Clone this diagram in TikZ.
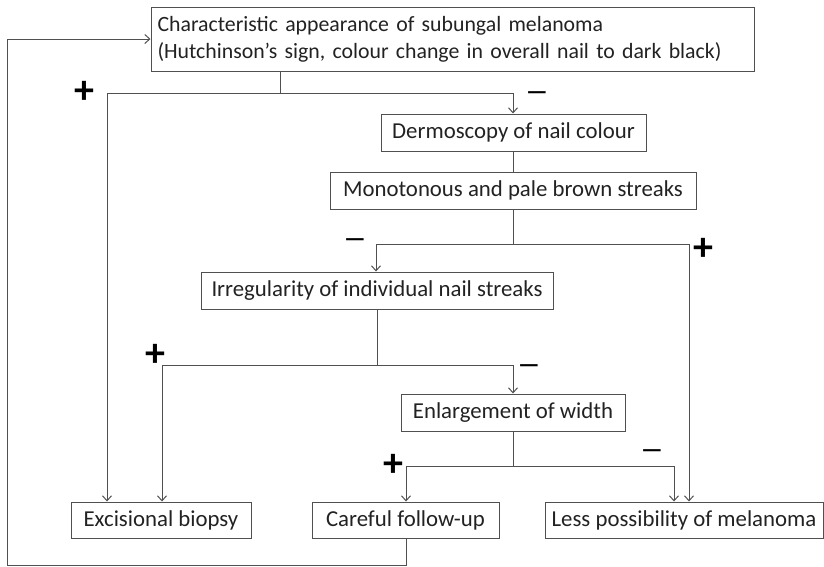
\documentclass[tikz,border=0pt]{standalone}
\usepackage{fontspec}
\setmainfont{Carlito}
\usetikzlibrary{arrows.meta}
\definecolor{linec}{HTML}{505050}
\definecolor{textc}{HTML}{222222}
\begin{document}
\begin{tikzpicture}[x=1pt,y=-1pt,
  box/.style={draw=linec,line width=1pt,inner sep=0pt,text=textc,font=\fontsize{22.8}{27}\selectfont,anchor=center},
  conn/.style={draw=linec,line width=1pt},
  arr/.style={conn,-{Straight Barb[length=5pt,width=9pt]}},
  plus/.style={font=\fontsize{40}{40}\bfseries\selectfont,inner sep=0pt,text=black},
  minus/.style={font=\fontsize{24}{24}\bfseries\selectfont,inner sep=0pt,text=black}]
\useasboundingbox (0,0) rectangle (824,566);
\node[box,minimum width=603pt,minimum height=64pt,text width=590pt,align=left,font=\fontsize{21.8}{27}\selectfont] (top) at (452.5,39)
  {Characteristic appearance of subungal melanoma\\(Hutchinson’s sign, colour change in overall nail to dark black)};
\node[box,minimum width=265pt,minimum height=37pt] (derm) at (513.5,132.5) {Dermoscopy of nail colour};
\node[box,minimum width=366pt,minimum height=37pt] (mono) at (513,190.5) {Monotonous and pale brown streaks};
\node[box,minimum width=352pt,minimum height=37pt] (irr) at (377,290.5) {Irregularity of individual nail streaks};
\node[box,minimum width=224pt,minimum height=37pt] (enl) at (513,412.5) {Enlargement of width};
\node[box,minimum width=180pt,minimum height=36pt] (exc) at (161,520) {Excisional biopsy};
\node[box,minimum width=187pt,minimum height=36pt] (care) at (405.5,520) {Careful follow-up};
\node[box,minimum width=278pt,minimum height=36pt] (less) at (684,520) {Less possibility of melanoma};
% junctions
\coordinate (j1) at (280,93);
\coordinate (b1) at (107,93);
\coordinate (d1) at (513,93);
\coordinate (j2) at (513,244);
\coordinate (i2) at (376,244);
\coordinate (l2) at (689,244);
\coordinate (j3) at (377,365);
\coordinate (b3) at (162,365);
\coordinate (e3) at (513,365);
\coordinate (j4) at (513,466);
\coordinate (c4) at (406,466);
\coordinate (l4) at (674,466);
\coordinate (f1) at (406,565);
\coordinate (f2) at (7,565);
\coordinate (f3) at (7,39);
% connectors
\draw[conn] (j1 |- top.south) -- (j1);
\draw[arr] (j1) -- (b1) -- (b1 |- exc.north);
\draw[arr] (j1) -- (d1) -- (d1 |- derm.north);
\draw[conn] (d1 |- derm.south) -- (d1 |- mono.north);
\draw[conn] (j2 |- mono.south) -- (j2);
\draw[arr] (j2) -- (i2) -- (i2 |- irr.north);
\draw[arr] (j2) -- (l2) -- (l2 |- less.north);
\draw[conn] (j3 |- irr.south) -- (j3);
\draw[arr] (j3) -- (b3) -- (b3 |- exc.north);
\draw[arr] (j3) -- (e3) -- (e3 |- enl.north);
\draw[conn] (j4 |- enl.south) -- (j4);
\draw[arr] (j4) -- (c4) -- (c4 |- care.north);
\draw[arr] (j4) -- (l4) -- (l4 |- less.north);
\draw[arr] (f1 |- care.south) -- (f1) -- (f2) -- (f3) -- (top.west);
% signs
\node[plus] (p1) at (84,92) {+};
\node[minus] (m1) at (537,96) {—};
\node[minus] (m2) at (355,243) {—};
\node[plus] (p2) at (703,249) {+};
\node[plus] (p3) at (155,355) {+};
\node[minus] (m3) at (529,369) {—};
\node[plus] (p4) at (393,465) {+};
\node[minus] (m4) at (652,454) {—};
\end{tikzpicture}
\end{document}
